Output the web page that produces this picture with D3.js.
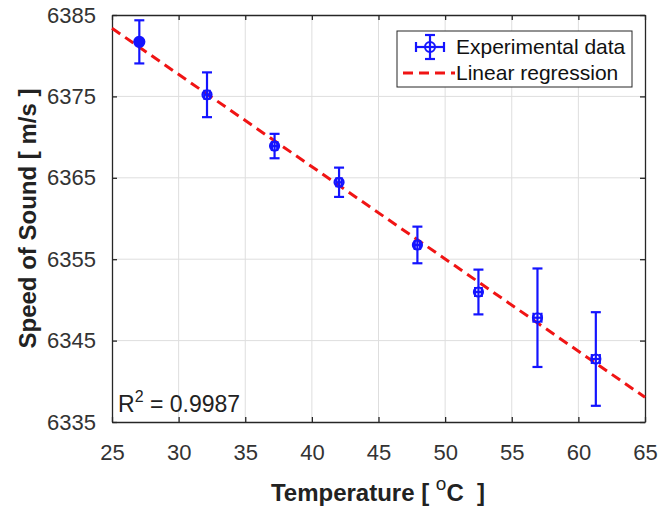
<!DOCTYPE html>
<html>
<head>
<meta charset="utf-8">
<script src="https://cdn.jsdelivr.net/npm/d3@7"></script>
<style>
  body { margin: 0; background: #fff; }
  text { font-family: "Liberation Sans", Arial, sans-serif; }
</style>
</head>
<body>
<svg width="659" height="512"></svg>
<script>
// measured points
var temps  = [27.05, 32.13, 37.2, 42.04, 47.92, 52.5, 56.93, 61.31];
var speeds = [6381.7, 6375.2, 6368.9, 6364.45, 6356.75, 6350.97, 6347.81, 6342.74];
var yErr   = [2.65, 2.75, 1.5, 1.8, 2.25, 2.75, 6.05, 5.75];
var xErr   = [0.15, 0.2, 0.2, 0.2, 0.2, 0.25, 0.3, 0.3];
// regression line ends
var fitX = [25, 65];
var fitY = [6383.37, 6338.03];
var xTicks = [25, 30, 35, 40, 45, 50, 55, 60, 65];
var yTicks = [6335, 6345, 6355, 6365, 6375, 6385];

var svg = d3.select("svg"),
    mLeft = 112, mRight = 645, mTop = 15, mBottom = 422,
    blue = "#1414ff";

var x = d3.scaleLinear().domain([25, 65]).range([mLeft, mRight]);
var y = d3.scaleLinear().domain([6335, 6385]).range([mBottom, mTop]);

var points = temps.map(function(t, i) {
  return {t: t, v: speeds[i], ey: yErr[i], ex: xErr[i]};
});

// grid
svg.append("g").selectAll("line").data(xTicks.slice(1, -1)).enter().append("line")
  .attr("x1", function(d) { return x(d); }).attr("x2", function(d) { return x(d); })
  .attr("y1", mTop).attr("y2", mBottom)
  .style("stroke", "#dedede").style("stroke-width", 1);
svg.append("g").selectAll("line").data(yTicks.slice(1, -1)).enter().append("line")
  .attr("y1", function(d) { return y(d); }).attr("y2", function(d) { return y(d); })
  .attr("x1", mLeft).attr("x2", mRight)
  .style("stroke", "#dedede").style("stroke-width", 1);

// axes, ticks pointing inward
var xb = svg.append("g").attr("transform", "translate(0," + mBottom + ")")
  .call(d3.axisBottom(x).tickValues(xTicks).tickSizeInner(-5).tickSizeOuter(0).tickPadding(22));
var xt = svg.append("g").attr("transform", "translate(0," + mTop + ")")
  .call(d3.axisTop(x).tickValues(xTicks).tickSizeInner(-5).tickSizeOuter(0).tickFormat(""));
var yl = svg.append("g").attr("transform", "translate(" + mLeft + ",0)")
  .call(d3.axisLeft(y).tickValues(yTicks).tickFormat(d3.format("d")).tickSizeInner(-5).tickSizeOuter(0).tickPadding(16));
var yr = svg.append("g").attr("transform", "translate(" + mRight + ",0)")
  .call(d3.axisRight(y).tickValues(yTicks).tickSizeInner(-5).tickSizeOuter(0).tickFormat(""));

[xb, xt, yl, yr].forEach(function(g) {
  g.select(".domain").style("stroke", "#262626").style("stroke-width", 1.3);
  g.selectAll(".tick line").style("stroke", "#262626").style("stroke-width", 1.3);
  g.selectAll(".tick text").style("font-size", "22px").style("fill", "#333")
    .style("font-family", "Liberation Sans, Arial, sans-serif");
});
xb.selectAll(".tick text").attr("dy", "0.71em");

// regression line
var line = d3.line().x(function(d) { return x(d[0]); }).y(function(d) { return y(d[1]); });
svg.append("path").datum(d3.zip(fitX, fitY))
  .attr("d", line)
  .style("fill", "none").style("stroke", "#f01414").style("stroke-width", 3)
  .style("stroke-dasharray", "10,6");

// error bars
var eb = svg.append("g").selectAll("g").data(points).enter().append("g")
  .style("stroke", blue).style("stroke-width", 2.2).style("fill", "none");
eb.append("line")
  .attr("x1", function(d) { return x(d.t); }).attr("x2", function(d) { return x(d.t); })
  .attr("y1", function(d) { return y(d.v + d.ey); }).attr("y2", function(d) { return y(d.v - d.ey); });
eb.append("line")
  .attr("x1", function(d) { return x(d.t) - 5; }).attr("x2", function(d) { return x(d.t) + 5; })
  .attr("y1", function(d) { return y(d.v + d.ey); }).attr("y2", function(d) { return y(d.v + d.ey); });
eb.append("line")
  .attr("x1", function(d) { return x(d.t) - 5; }).attr("x2", function(d) { return x(d.t) + 5; })
  .attr("y1", function(d) { return y(d.v - d.ey); }).attr("y2", function(d) { return y(d.v - d.ey); });
eb.append("line")
  .attr("x1", function(d) { return x(d.t - d.ex); }).attr("x2", function(d) { return x(d.t + d.ex); })
  .attr("y1", function(d) { return y(d.v); }).attr("y2", function(d) { return y(d.v); });
eb.append("line")
  .attr("x1", function(d) { return x(d.t - d.ex); }).attr("x2", function(d) { return x(d.t - d.ex); })
  .attr("y1", function(d) { return y(d.v) - 5; }).attr("y2", function(d) { return y(d.v) + 5; });
eb.append("line")
  .attr("x1", function(d) { return x(d.t + d.ex); }).attr("x2", function(d) { return x(d.t + d.ex); })
  .attr("y1", function(d) { return y(d.v) - 5; }).attr("y2", function(d) { return y(d.v) + 5; });
eb.append("circle")
  .attr("cx", function(d) { return x(d.t); }).attr("cy", function(d) { return y(d.v); })
  .attr("r", function(d, i) { return i == 0 ? 5 : 4.5; })
  .style("fill", function(d, i) { return i == 0 ? blue : "none"; });

// legend
var lg = svg.append("g");
lg.append("rect").attr("x", 397).attr("y", 31).attr("width", 235).attr("height", 56)
  .style("fill", "#fff").style("stroke", "#262626").style("stroke-width", 1);
var lx = 430, ly1 = 47, ly2 = 73;
lg.append("line").attr("x1", lx - 14).attr("x2", lx + 14).attr("y1", ly1).attr("y2", ly1)
  .style("stroke", blue).style("stroke-width", 2.2);
lg.append("line").attr("x1", lx).attr("x2", lx).attr("y1", ly1 - 12).attr("y2", ly1 + 12)
  .style("stroke", blue).style("stroke-width", 2.2);
[[lx - 5, ly1 - 12, lx + 5, ly1 - 12], [lx - 5, ly1 + 12, lx + 5, ly1 + 12],
 [lx - 14, ly1 - 5, lx - 14, ly1 + 5], [lx + 14, ly1 - 5, lx + 14, ly1 + 5]].forEach(function(c) {
  lg.append("line").attr("x1", c[0]).attr("y1", c[1]).attr("x2", c[2]).attr("y2", c[3])
    .style("stroke", blue).style("stroke-width", 2.2);
});
lg.append("circle").attr("cx", lx).attr("cy", ly1).attr("r", 5)
  .style("fill", "none").style("stroke", blue).style("stroke-width", 2);
lg.append("line").attr("x1", 403).attr("x2", 455).attr("y1", ly2).attr("y2", ly2)
  .style("stroke", "#f01414").style("stroke-width", 3).style("stroke-dasharray", "10,6");
lg.append("text").attr("x", 456).attr("y", ly1 + 7).text("Experimental data")
  .style("font-size", "21px").style("fill", "#111");
lg.append("text").attr("x", 456).attr("y", ly2 + 7).text("Linear regression")
  .style("font-size", "21px").style("fill", "#111");

// R squared
var r2 = svg.append("text").attr("x", 118).attr("y", 412)
  .style("font-size", "23px").style("fill", "#222");
r2.append("tspan").text("R");
r2.append("tspan").attr("dy", -10).style("font-size", "16px").text("2");
r2.append("tspan").attr("dy", 10).text(" = 0.9987");

// axis titles
var xl = svg.append("text").attr("x", 378).attr("y", 501).attr("text-anchor", "middle")
  .style("font-size", "24px").style("font-weight", "bold").style("fill", "#222");
xl.append("tspan").text("Temperature [ ");
xl.append("tspan").attr("dy", -11).style("font-size", "19px").style("font-weight", "normal").text("o");
xl.append("tspan").attr("dy", 11).text("C\u00a0\u00a0]");

svg.append("text").attr("transform", "translate(36," + ((mTop + mBottom) / 2) + ") rotate(-90)")
  .attr("text-anchor", "middle")
  .style("font-size", "24px").style("font-weight", "bold").style("fill", "#222")
  .text("Speed of Sound [ m/s ]");
</script>
</body>
</html>
